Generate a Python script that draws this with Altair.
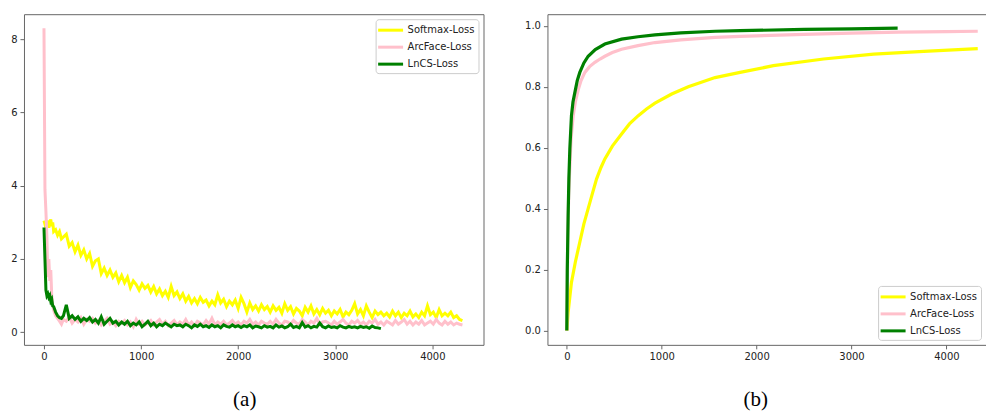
import altair as alt
import pandas as pd

series = ["Softmax-Loss", "ArcFace-Loss", "LnCS-Loss"]
colors = ["#ffff00", "#ffc0cb", "#008000"]

# ---- (a) training loss, iterations ----
loss_x_head = [0, 10, 20, 30, 40, 50, 60, 70, 80, 90, 100, 120, 140, 160, 180, 200]
loss_x_full = loss_x_head + list(range(230, 4340, 30))
loss_x_lncs = loss_x_head + list(range(230, 3490, 30))

softmax_loss = [
    3.05, 2.95, 3.0, 2.9, 3.05, 2.85, 3.0, 3.08, 2.9, 3.0, 2.75, 2.8, 2.65, 2.75, 2.55, 2.6,
    2.68, 2.35, 2.45, 2.2, 2.38, 2.1, 2.25, 2.0, 2.15, 1.8,
    1.95, 2.0, 1.6, 1.75, 1.55, 1.7, 1.5, 1.62, 1.38, 1.55,
    1.35, 1.5, 1.22, 1.4, 1.3, 1.15, 1.32, 1.2, 1.28, 1.1,
    1.25, 1.05, 1.18, 1.0, 1.12, 0.95, 1.25, 1.0, 1.1, 0.92,
    1.05, 0.85, 0.98, 0.8, 0.92, 0.78, 0.95, 0.82, 0.88, 0.72,
    0.85, 0.75, 1.02, 0.8, 0.9, 0.7, 0.85, 0.75, 0.88, 0.65,
    0.95, 0.78, 0.55, 0.8, 0.62, 0.72, 0.58, 0.75, 0.62, 0.7,
    0.55, 0.72, 0.6, 0.68, 0.52, 0.78, 0.6, 0.7, 0.5, 0.65,
    0.58, 0.45, 0.68, 0.55, 0.72, 0.5, 0.62, 0.48, 0.65, 0.52,
    0.6, 0.45, 0.58, 0.5, 0.62, 0.42, 0.55, 0.48, 0.6, 0.78,
    0.5, 0.62, 0.45, 0.72, 0.55, 0.4, 0.58, 0.48, 0.55, 0.45,
    0.52, 0.42, 0.58, 0.45, 0.55, 0.4, 0.52, 0.45, 0.58, 0.42,
    0.5, 0.4, 0.55, 0.45, 0.72, 0.48, 0.55, 0.4, 0.62, 0.45,
    0.52, 0.45, 0.55, 0.4, 0.45, 0.35, 0.32,
]
arcface_loss = [
    8.3, 3.9, 3.3, 2.6, 1.5, 2.0, 1.4, 1.7, 1.0, 0.75, 0.6, 0.45, 0.38, 0.3, 0.22, 0.35,
    0.3, 0.42, 0.25, 0.35, 0.28, 0.4, 0.22, 0.35, 0.3, 0.38,
    0.25, 0.32, 0.2, 0.3, 0.38, 0.22, 0.28, 0.18, 0.3, 0.25,
    0.32, 0.2, 0.28, 0.15, 0.35, 0.22, 0.3, 0.2, 0.25, 0.32,
    0.2, 0.28, 0.35, 0.22, 0.3, 0.18, 0.25, 0.32, 0.2, 0.28,
    0.22, 0.35, 0.2, 0.28, 0.18, 0.3, 0.25, 0.2, 0.32, 0.22,
    0.38, 0.2, 0.28, 0.22, 0.3, 0.2, 0.25, 0.32, 0.22, 0.28,
    0.2, 0.3, 0.25, 0.35, 0.22, 0.28, 0.2, 0.3, 0.25, 0.22,
    0.3, 0.22, 0.35, 0.25, 0.2, 0.3, 0.28, 0.22, 0.32, 0.25,
    0.22, 0.35, 0.28, 0.2, 0.3, 0.25, 0.38, 0.22, 0.28, 0.3,
    0.25, 0.2, 0.3, 0.22, 0.28, 0.35, 0.25, 0.2, 0.3, 0.25,
    0.32, 0.22, 0.28, 0.2, 0.3, 0.25, 0.35, 0.22, 0.28, 0.2,
    0.3, 0.25, 0.2, 0.32, 0.22, 0.28, 0.35, 0.22, 0.3, 0.2,
    0.28, 0.22, 0.32, 0.2, 0.25, 0.3, 0.22, 0.35, 0.25, 0.2,
    0.3, 0.22, 0.28, 0.2, 0.25, 0.22, 0.2,
]
lncs_loss = [
    2.86, 2.0, 1.15, 1.0, 1.05, 0.95, 1.0, 0.85, 0.9, 0.72, 0.7, 0.55, 0.45, 0.4, 0.38, 0.45,
    0.75, 0.38, 0.45, 0.35, 0.42, 0.3, 0.38, 0.32, 0.4, 0.28,
    0.35, 0.25, 0.42, 0.22, 0.3, 0.38, 0.25, 0.3, 0.2, 0.28,
    0.22, 0.3, 0.18, 0.25, 0.2, 0.28, 0.15, 0.22, 0.3, 0.18,
    0.25, 0.15, 0.22, 0.18, 0.25, 0.2, 0.15, 0.22, 0.18, 0.2,
    0.15, 0.22, 0.18, 0.12, 0.2, 0.16, 0.22, 0.15, 0.18, 0.13,
    0.2, 0.15, 0.18, 0.12, 0.2, 0.16, 0.14, 0.2, 0.15, 0.18,
    0.13, 0.18, 0.15, 0.2, 0.12, 0.17, 0.15, 0.12, 0.18, 0.14,
    0.16, 0.12, 0.2, 0.14, 0.17, 0.12, 0.15, 0.22, 0.13, 0.16,
    0.12, 0.26, 0.14, 0.18, 0.12, 0.16, 0.14, 0.25, 0.15, 0.12,
    0.17, 0.13, 0.15, 0.12, 0.18, 0.14, 0.12, 0.16, 0.13, 0.15,
    0.12, 0.16, 0.13, 0.15, 0.11, 0.17, 0.13, 0.12, 0.1,
]

# ---- (b) accuracy curves ----
softmax_acc_x = [0, 14, 49, 90, 137, 180, 225, 270, 313, 360, 401, 480, 577, 660, 753,
                 840, 929, 1105, 1280, 1562, 1826, 2177, 2705, 3233, 3761, 4330]
softmax_acc = [0, 0.06, 0.158, 0.225, 0.29, 0.35, 0.40, 0.45, 0.497, 0.535, 0.563, 0.605,
               0.645, 0.678, 0.705, 0.727, 0.746, 0.776, 0.80, 0.83, 0.847, 0.869, 0.891,
               0.907, 0.916, 0.925]
arcface_acc_x = [0, 10, 20, 32, 45, 67, 90, 120, 150, 190, 240, 296, 350, 401, 480, 577,
                 750, 929, 1200, 1562, 1826, 2500, 3000, 3500, 4000, 4330]
arcface_acc = [0, 0.3, 0.45, 0.54, 0.63, 0.705, 0.75, 0.79, 0.82, 0.847, 0.866, 0.88,
               0.891, 0.90, 0.912, 0.923, 0.935, 0.945, 0.954, 0.962, 0.965, 0.972, 0.976,
               0.979, 0.981, 0.982]
lncs_acc_x = [0, 5, 14, 22, 32, 49, 65, 84, 110, 137, 180, 225, 300, 401, 577, 750, 929,
              1200, 1562, 1826, 2500, 3000, 3486]
lncs_acc = [0, 0.2, 0.377, 0.5, 0.596, 0.705, 0.75, 0.78, 0.82, 0.847, 0.878, 0.90, 0.922,
            0.94, 0.956, 0.964, 0.97, 0.977, 0.982, 0.984, 0.988, 0.99, 0.992]

loss_df = pd.concat([
    pd.DataFrame({"iter": loss_x_full, "val": softmax_loss, "series": series[0]}),
    pd.DataFrame({"iter": loss_x_full, "val": arcface_loss, "series": series[1]}),
    pd.DataFrame({"iter": loss_x_lncs, "val": lncs_loss, "series": series[2]}),
], ignore_index=True)
acc_df = pd.concat([
    pd.DataFrame({"iter": softmax_acc_x, "val": softmax_acc, "series": series[0]}),
    pd.DataFrame({"iter": arcface_acc_x, "val": arcface_acc, "series": series[1]}),
    pd.DataFrame({"iter": lncs_acc_x, "val": lncs_acc, "series": series[2]}),
], ignore_index=True)
loss_df["k"] = loss_df["series"].map({s: i for i, s in enumerate(series)})
acc_df["k"] = acc_df["series"].map({s: i for i, s in enumerate(series)})

font = "DejaVu Sans"
frame = "#666666"
ax = dict(labelFont=font, labelFontSize=10, labelColor="#222222", tickColor=frame,
          tickSize=4, labelPadding=3, grid=False, title=None, domainColor=frame)


def legend(orient):
    return alt.Legend(title=None, orient=orient, offset=5, symbolType="M-2,0H2",
                      symbolStrokeWidth=3, symbolSize=156, labelFont=font,
                      labelFontSize=10, labelColor="#222222", fillColor="white",
                      strokeColor="#cccccc", cornerRadius=3, padding=3, labelOffset=9,
                      rowPadding=3, symbolOffset=4)


color_scale = alt.Scale(domain=series, range=colors)

left = alt.Chart(loss_df).mark_line(strokeWidth=3, clip=True).encode(
    x=alt.X("iter:Q", scale=alt.Scale(domain=[-206, 4527], nice=False, zero=False),
            axis=alt.Axis(values=[0, 1000, 2000, 3000, 4000], format="d", domain=False, **ax)),
    y=alt.Y("val:Q", scale=alt.Scale(domain=[-0.344, 8.683], nice=False, zero=False),
            axis=alt.Axis(values=[0, 2, 4, 6, 8], format="d", domain=False, **ax)),
    color=alt.Color("series:N", scale=color_scale, sort=series, legend=legend("top-right")),
    order=alt.Order("k:Q"),
).properties(
    width=460, height=331,
    view=alt.ViewBackground(stroke=frame),
    title=alt.TitleParams("(a)", orient="bottom", anchor="middle", font="Liberation Serif",
                          fontSize=21, fontWeight="normal", color="black", offset=27, dx=-9),
)

xs_r = alt.Scale(domain=[-204, 4417], nice=False, zero=False)
ys_r = alt.Scale(domain=[-0.047, 1.038], nice=False, zero=False)
acc_lines = alt.Chart(acc_df).mark_line(strokeWidth=3.2, clip=True).encode(
    x=alt.X("iter:Q", scale=xs_r,
            axis=alt.Axis(values=[0, 1000, 2000, 3000, 4000], format="d", domain=True, **ax)),
    y=alt.Y("val:Q", scale=ys_r,
            axis=alt.Axis(values=[0, 0.2, 0.4, 0.6, 0.8, 1.0], format=".1f", domain=True, **ax)),
    color=alt.Color("series:N", scale=color_scale, sort=series, legend=legend("bottom-right")),
    order=alt.Order("k:Q"),
)
top_axis = alt.Chart(acc_df).mark_point(opacity=0).encode(
    x=alt.X("iter:Q", scale=xs_r,
            axis=alt.Axis(orient="top", labels=False, ticks=False, domain=True,
                          domainColor=frame, grid=False, title=None)),
    y=alt.Y("val:Q", scale=ys_r, axis=None),
)
right = alt.layer(acc_lines, top_axis).resolve_axis(x="independent", y="independent").properties(
    width=439, height=331,
    view=alt.ViewBackground(stroke=None),
    title=alt.TitleParams("(b)", orient="bottom", anchor="middle", font="Liberation Serif",
                          fontSize=21, fontWeight="normal", color="black", offset=27, dx=-11),
)

chart = alt.hconcat(left, right, spacing=64, bounds="flush").resolve_scale(
    color="independent"
).properties(
    padding={"left": 10, "top": 13, "right": 0, "bottom": 0}
).configure(background="white")

chart.save("out.html", embed_options={"renderer": "svg", "actions": False})
